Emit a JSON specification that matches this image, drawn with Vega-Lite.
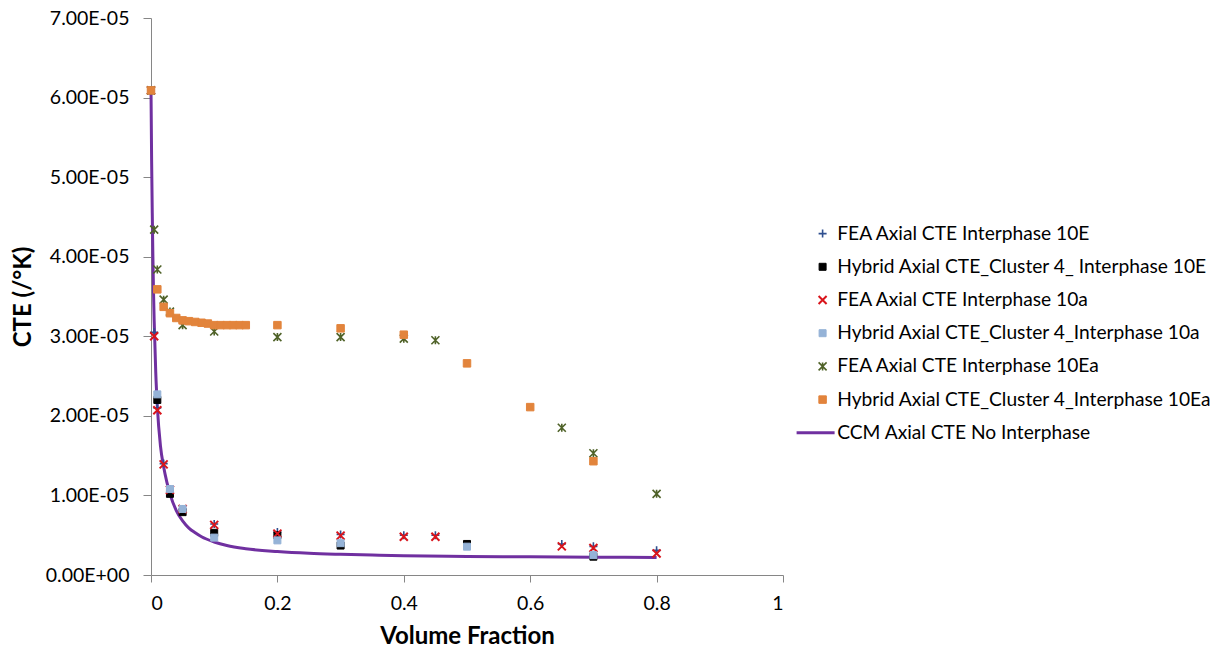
{
  "$schema": "https://vega.github.io/schema/vega-lite/v6.json",
  "width": 632,
  "height": 557,
  "autosize": {"type": "none"},
  "padding": {"left": 151, "top": 18, "right": 439, "bottom": 77},
  "background": "white",
  "config": {
    "view": {"stroke": null},
    "font": "Lato",
    "axis": {
      "grid": false,
      "domainColor": "#868686",
      "tickColor": "#868686",
      "labelColor": "#000000",
      "labelFontSize": 19.5,
      "titleFontSize": 24,
      "titleFontWeight": "bold",
      "titleColor": "#000000"
    },
    "legend": {
      "title": null,
      "orient": "none",
      "legendX": 662,
      "legendY": 206,
      "padding": 0,
      "labelFontSize": 19.2,
      "labelColor": "#000000",
      "labelLimit": 600,
      "rowPadding": 13.2,
      "labelOffset": 5
    }
  },
  "datasets": {
    "ccm": [
      {"s": "CCM Axial CTE No Interphase", "x": 0, "y": 6.1e-5},
      {"s": "CCM Axial CTE No Interphase", "x": 0.001, "y": 5.2e-5},
      {"s": "CCM Axial CTE No Interphase", "x": 0.002, "y": 4.55e-5},
      {"s": "CCM Axial CTE No Interphase", "x": 0.003, "y": 4.0e-5},
      {"s": "CCM Axial CTE No Interphase", "x": 0.004, "y": 3.55e-5},
      {"s": "CCM Axial CTE No Interphase", "x": 0.005, "y": 3.2e-5},
      {"s": "CCM Axial CTE No Interphase", "x": 0.0075, "y": 2.55e-5},
      {"s": "CCM Axial CTE No Interphase", "x": 0.01, "y": 2.12e-5},
      {"s": "CCM Axial CTE No Interphase", "x": 0.015, "y": 1.62e-5},
      {"s": "CCM Axial CTE No Interphase", "x": 0.02, "y": 1.36e-5},
      {"s": "CCM Axial CTE No Interphase", "x": 0.025, "y": 1.17e-5},
      {"s": "CCM Axial CTE No Interphase", "x": 0.03, "y": 1.02e-5},
      {"s": "CCM Axial CTE No Interphase", "x": 0.04, "y": 8.1e-6},
      {"s": "CCM Axial CTE No Interphase", "x": 0.05, "y": 6.8e-6},
      {"s": "CCM Axial CTE No Interphase", "x": 0.06, "y": 5.9e-6},
      {"s": "CCM Axial CTE No Interphase", "x": 0.07, "y": 5.3e-6},
      {"s": "CCM Axial CTE No Interphase", "x": 0.08, "y": 4.8e-6},
      {"s": "CCM Axial CTE No Interphase", "x": 0.1, "y": 4.15e-6},
      {"s": "CCM Axial CTE No Interphase", "x": 0.12, "y": 3.7e-6},
      {"s": "CCM Axial CTE No Interphase", "x": 0.15, "y": 3.3e-6},
      {"s": "CCM Axial CTE No Interphase", "x": 0.2, "y": 2.95e-6},
      {"s": "CCM Axial CTE No Interphase", "x": 0.25, "y": 2.73e-6},
      {"s": "CCM Axial CTE No Interphase", "x": 0.3, "y": 2.6e-6},
      {"s": "CCM Axial CTE No Interphase", "x": 0.35, "y": 2.5e-6},
      {"s": "CCM Axial CTE No Interphase", "x": 0.4, "y": 2.42e-6},
      {"s": "CCM Axial CTE No Interphase", "x": 0.5, "y": 2.33e-6},
      {"s": "CCM Axial CTE No Interphase", "x": 0.6, "y": 2.28e-6},
      {"s": "CCM Axial CTE No Interphase", "x": 0.7, "y": 2.24e-6},
      {"s": "CCM Axial CTE No Interphase", "x": 0.8, "y": 2.2e-6}
    ],
    "pts": [
      {"s": "FEA Axial CTE Interphase 10E", "x": 0, "y": 6.09e-5},
      {"s": "FEA Axial CTE Interphase 10E", "x": 0.005, "y": 3.05e-5},
      {"s": "FEA Axial CTE Interphase 10E", "x": 0.01, "y": 2.1e-5},
      {"s": "FEA Axial CTE Interphase 10E", "x": 0.02, "y": 1.4e-5},
      {"s": "FEA Axial CTE Interphase 10E", "x": 0.03, "y": 1.08e-5},
      {"s": "FEA Axial CTE Interphase 10E", "x": 0.05, "y": 8.3e-6},
      {"s": "FEA Axial CTE Interphase 10E", "x": 0.1, "y": 6.4e-6},
      {"s": "FEA Axial CTE Interphase 10E", "x": 0.2, "y": 5.4e-6},
      {"s": "FEA Axial CTE Interphase 10E", "x": 0.3, "y": 5.1e-6},
      {"s": "FEA Axial CTE Interphase 10E", "x": 0.4, "y": 5.0e-6},
      {"s": "FEA Axial CTE Interphase 10E", "x": 0.45, "y": 5.0e-6},
      {"s": "FEA Axial CTE Interphase 10E", "x": 0.65, "y": 3.9e-6},
      {"s": "FEA Axial CTE Interphase 10E", "x": 0.7, "y": 3.6e-6},
      {"s": "FEA Axial CTE Interphase 10E", "x": 0.8, "y": 3.1e-6},
      {"s": "Hybrid Axial CTE_Cluster 4_ Interphase 10E", "x": 0, "y": 6.09e-5},
      {"s": "Hybrid Axial CTE_Cluster 4_ Interphase 10E", "x": 0.01, "y": 2.2e-5},
      {"s": "Hybrid Axial CTE_Cluster 4_ Interphase 10E", "x": 0.03, "y": 1.02e-5},
      {"s": "Hybrid Axial CTE_Cluster 4_ Interphase 10E", "x": 0.05, "y": 7.9e-6},
      {"s": "Hybrid Axial CTE_Cluster 4_ Interphase 10E", "x": 0.1, "y": 5.3e-6},
      {"s": "Hybrid Axial CTE_Cluster 4_ Interphase 10E", "x": 0.2, "y": 5.0e-6},
      {"s": "Hybrid Axial CTE_Cluster 4_ Interphase 10E", "x": 0.3, "y": 3.7e-6},
      {"s": "Hybrid Axial CTE_Cluster 4_ Interphase 10E", "x": 0.5, "y": 3.9e-6},
      {"s": "Hybrid Axial CTE_Cluster 4_ Interphase 10E", "x": 0.7, "y": 2.3e-6},
      {"s": "FEA Axial CTE Interphase 10a", "x": 0, "y": 6.09e-5},
      {"s": "FEA Axial CTE Interphase 10a", "x": 0.005, "y": 3.0e-5},
      {"s": "FEA Axial CTE Interphase 10a", "x": 0.01, "y": 2.07e-5},
      {"s": "FEA Axial CTE Interphase 10a", "x": 0.02, "y": 1.39e-5},
      {"s": "FEA Axial CTE Interphase 10a", "x": 0.03, "y": 1.07e-5},
      {"s": "FEA Axial CTE Interphase 10a", "x": 0.05, "y": 8.3e-6},
      {"s": "FEA Axial CTE Interphase 10a", "x": 0.1, "y": 6.3e-6},
      {"s": "FEA Axial CTE Interphase 10a", "x": 0.2, "y": 5.2e-6},
      {"s": "FEA Axial CTE Interphase 10a", "x": 0.3, "y": 4.95e-6},
      {"s": "FEA Axial CTE Interphase 10a", "x": 0.4, "y": 4.8e-6},
      {"s": "FEA Axial CTE Interphase 10a", "x": 0.45, "y": 4.8e-6},
      {"s": "FEA Axial CTE Interphase 10a", "x": 0.65, "y": 3.6e-6},
      {"s": "FEA Axial CTE Interphase 10a", "x": 0.7, "y": 3.4e-6},
      {"s": "FEA Axial CTE Interphase 10a", "x": 0.8, "y": 2.7e-6},
      {"s": "Hybrid Axial CTE_Cluster 4_Interphase 10a", "x": 0, "y": 6.09e-5},
      {"s": "Hybrid Axial CTE_Cluster 4_Interphase 10a", "x": 0.01, "y": 2.27e-5},
      {"s": "Hybrid Axial CTE_Cluster 4_Interphase 10a", "x": 0.03, "y": 1.08e-5},
      {"s": "Hybrid Axial CTE_Cluster 4_Interphase 10a", "x": 0.05, "y": 8.3e-6},
      {"s": "Hybrid Axial CTE_Cluster 4_Interphase 10a", "x": 0.1, "y": 4.7e-6},
      {"s": "Hybrid Axial CTE_Cluster 4_Interphase 10a", "x": 0.2, "y": 4.35e-6},
      {"s": "Hybrid Axial CTE_Cluster 4_Interphase 10a", "x": 0.3, "y": 4.0e-6},
      {"s": "Hybrid Axial CTE_Cluster 4_Interphase 10a", "x": 0.5, "y": 3.56e-6},
      {"s": "Hybrid Axial CTE_Cluster 4_Interphase 10a", "x": 0.7, "y": 2.5e-6},
      {"s": "FEA Axial CTE Interphase 10Ea", "x": 0, "y": 6.09e-5},
      {"s": "FEA Axial CTE Interphase 10Ea", "x": 0.005, "y": 4.34e-5},
      {"s": "FEA Axial CTE Interphase 10Ea", "x": 0.01, "y": 3.84e-5},
      {"s": "FEA Axial CTE Interphase 10Ea", "x": 0.02, "y": 3.46e-5},
      {"s": "FEA Axial CTE Interphase 10Ea", "x": 0.03, "y": 3.31e-5},
      {"s": "FEA Axial CTE Interphase 10Ea", "x": 0.05, "y": 3.14e-5},
      {"s": "FEA Axial CTE Interphase 10Ea", "x": 0.1, "y": 3.06e-5},
      {"s": "FEA Axial CTE Interphase 10Ea", "x": 0.2, "y": 2.99e-5},
      {"s": "FEA Axial CTE Interphase 10Ea", "x": 0.3, "y": 2.99e-5},
      {"s": "FEA Axial CTE Interphase 10Ea", "x": 0.4, "y": 2.97e-5},
      {"s": "FEA Axial CTE Interphase 10Ea", "x": 0.45, "y": 2.95e-5},
      {"s": "FEA Axial CTE Interphase 10Ea", "x": 0.65, "y": 1.85e-5},
      {"s": "FEA Axial CTE Interphase 10Ea", "x": 0.7, "y": 1.53e-5},
      {"s": "FEA Axial CTE Interphase 10Ea", "x": 0.8, "y": 1.02e-5},
      {"s": "Hybrid Axial CTE_Cluster 4_Interphase 10Ea", "x": 0, "y": 6.09e-5},
      {"s": "Hybrid Axial CTE_Cluster 4_Interphase 10Ea", "x": 0.01, "y": 3.59e-5},
      {"s": "Hybrid Axial CTE_Cluster 4_Interphase 10Ea", "x": 0.02, "y": 3.37e-5},
      {"s": "Hybrid Axial CTE_Cluster 4_Interphase 10Ea", "x": 0.03, "y": 3.29e-5},
      {"s": "Hybrid Axial CTE_Cluster 4_Interphase 10Ea", "x": 0.04, "y": 3.23e-5},
      {"s": "Hybrid Axial CTE_Cluster 4_Interphase 10Ea", "x": 0.05, "y": 3.2e-5},
      {"s": "Hybrid Axial CTE_Cluster 4_Interphase 10Ea", "x": 0.06, "y": 3.19e-5},
      {"s": "Hybrid Axial CTE_Cluster 4_Interphase 10Ea", "x": 0.07, "y": 3.18e-5},
      {"s": "Hybrid Axial CTE_Cluster 4_Interphase 10Ea", "x": 0.08, "y": 3.17e-5},
      {"s": "Hybrid Axial CTE_Cluster 4_Interphase 10Ea", "x": 0.09, "y": 3.16e-5},
      {"s": "Hybrid Axial CTE_Cluster 4_Interphase 10Ea", "x": 0.1, "y": 3.14e-5},
      {"s": "Hybrid Axial CTE_Cluster 4_Interphase 10Ea", "x": 0.11, "y": 3.14e-5},
      {"s": "Hybrid Axial CTE_Cluster 4_Interphase 10Ea", "x": 0.12, "y": 3.14e-5},
      {"s": "Hybrid Axial CTE_Cluster 4_Interphase 10Ea", "x": 0.13, "y": 3.14e-5},
      {"s": "Hybrid Axial CTE_Cluster 4_Interphase 10Ea", "x": 0.14, "y": 3.14e-5},
      {"s": "Hybrid Axial CTE_Cluster 4_Interphase 10Ea", "x": 0.15, "y": 3.14e-5},
      {"s": "Hybrid Axial CTE_Cluster 4_Interphase 10Ea", "x": 0.2, "y": 3.14e-5},
      {"s": "Hybrid Axial CTE_Cluster 4_Interphase 10Ea", "x": 0.3, "y": 3.1e-5},
      {"s": "Hybrid Axial CTE_Cluster 4_Interphase 10Ea", "x": 0.4, "y": 3.02e-5},
      {"s": "Hybrid Axial CTE_Cluster 4_Interphase 10Ea", "x": 0.5, "y": 2.66e-5},
      {"s": "Hybrid Axial CTE_Cluster 4_Interphase 10Ea", "x": 0.6, "y": 2.11e-5},
      {"s": "Hybrid Axial CTE_Cluster 4_Interphase 10Ea", "x": 0.7, "y": 1.43e-5}
    ]
  },
  "encoding": {
    "x": {
      "field": "x",
      "type": "quantitative",
      "scale": {"domain": [0, 1], "nice": false, "zero": false},
      "axis": {
        "title": "Volume Fraction",
        "values": [0, 0.2, 0.4, 0.6, 0.8, 1],
        "format": ".1~f",
        "tickSize": 7,
        "labelPadding": 12,
        "titlePadding": 12
      }
    },
    "y": {
      "field": "y",
      "type": "quantitative",
      "scale": {"domain": [0, 7e-5], "nice": false, "zero": false},
      "axis": {
        "title": "CTE (/°K)",
        "values": [0, 1e-5, 2e-5, 3e-5, 4e-5, 5e-5, 6e-5, 7e-5],
        "labelExpr": "datum.value == 0 ? '0.00E+00' : format(datum.value * 100000, '.2f') + 'E-05'",
        "tickSize": 8,
        "labelPadding": 14,
        "titlePadding": 10
      }
    }
  },
  "layer": [
    {
      "data": {"name": "ccm"},
      "mark": {"type": "line", "strokeWidth": 3, "interpolate": "monotone"},
      "encoding": {
        "stroke": {
          "field": "s",
          "type": "nominal",
          "scale": {
            "domain": ["FEA Axial CTE Interphase 10E", "Hybrid Axial CTE_Cluster 4_ Interphase 10E", "FEA Axial CTE Interphase 10a", "Hybrid Axial CTE_Cluster 4_Interphase 10a", "FEA Axial CTE Interphase 10Ea", "Hybrid Axial CTE_Cluster 4_Interphase 10Ea", "CCM Axial CTE No Interphase"],
            "range": ["#2F4F8F", "#000000", "#D9141B", "#95B3D7", "#4F6228", "#E2843C", "#7030A0"]
          }
        }
      }
    },
    {
      "data": {"name": "pts"},
      "mark": {"type": "point", "opacity": 1},
      "encoding": {
        "stroke": {"field": "s", "type": "nominal"},
        "shape": {
          "field": "s",
          "type": "nominal",
          "scale": {
            "domain": ["FEA Axial CTE Interphase 10E", "Hybrid Axial CTE_Cluster 4_ Interphase 10E", "FEA Axial CTE Interphase 10a", "Hybrid Axial CTE_Cluster 4_Interphase 10a", "FEA Axial CTE Interphase 10Ea", "Hybrid Axial CTE_Cluster 4_Interphase 10Ea", "CCM Axial CTE No Interphase"],
            "range": ["M-1,0H1M0,-1V1", "square", "M-1,-1L1,1M-1,1L1,-1", "square", "M-1,-1L1,1M-1,1L1,-1M0,-1V1", "square", "M-6.5,0H3"]
          }
        },
        "fill": {
          "field": "s",
          "type": "nominal",
          "scale": {
            "domain": ["FEA Axial CTE Interphase 10E", "Hybrid Axial CTE_Cluster 4_ Interphase 10E", "FEA Axial CTE Interphase 10a", "Hybrid Axial CTE_Cluster 4_Interphase 10a", "FEA Axial CTE Interphase 10Ea", "Hybrid Axial CTE_Cluster 4_Interphase 10Ea", "CCM Axial CTE No Interphase"],
            "range": ["transparent", "#000000", "transparent", "#95B3D7", "transparent", "#E2843C", "transparent"]
          }
        },
        "size": {
          "field": "s",
          "type": "nominal",
          "scale": {
            "type": "ordinal",
            "domain": ["FEA Axial CTE Interphase 10E", "Hybrid Axial CTE_Cluster 4_ Interphase 10E", "FEA Axial CTE Interphase 10a", "Hybrid Axial CTE_Cluster 4_Interphase 10a", "FEA Axial CTE Interphase 10Ea", "Hybrid Axial CTE_Cluster 4_Interphase 10Ea", "CCM Axial CTE No Interphase"],
            "range": [64, 49, 64, 49, 64, 56, 64]
          }
        },
        "strokeWidth": {
          "field": "s",
          "type": "nominal",
          "scale": {
            "type": "ordinal",
            "domain": ["FEA Axial CTE Interphase 10E", "Hybrid Axial CTE_Cluster 4_ Interphase 10E", "FEA Axial CTE Interphase 10a", "Hybrid Axial CTE_Cluster 4_Interphase 10a", "FEA Axial CTE Interphase 10Ea", "Hybrid Axial CTE_Cluster 4_Interphase 10Ea", "CCM Axial CTE No Interphase"],
            "range": [1.6, 1, 2, 1, 1.6, 1, 3]
          }
        }
      }
    }
  ]
}
